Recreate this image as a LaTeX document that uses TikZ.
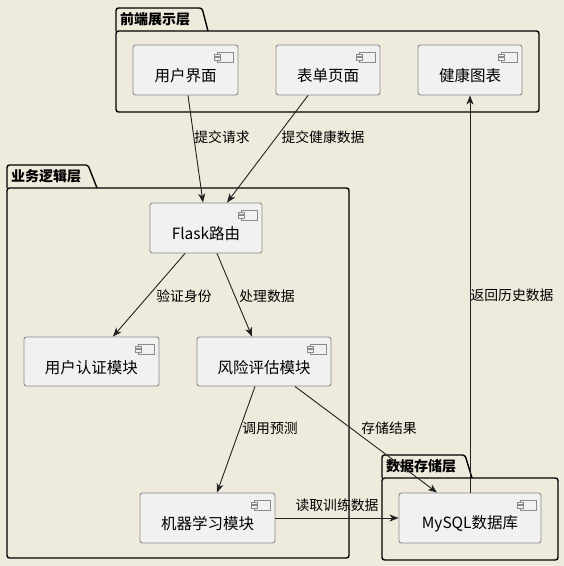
\documentclass[tikz,border=0pt]{standalone}
\usepackage{fontspec}
\setmainfont{Noto Sans CJK SC}
\usetikzlibrary{arrows.meta}
\definecolor{bgc}{HTML}{EEEADC}
\definecolor{compfill}{HTML}{F1F1F1}
\definecolor{compdraw}{HTML}{8A8A8A}
\definecolor{linec}{HTML}{222222}
\tikzset{
  pkg/.style={draw=black,line width=1.4pt,rounded corners=2.5pt},
  pkgtitle/.style={font=\fontsize{14}{16}\selectfont\bfseries,anchor=west,inner sep=0pt},
  comp/.style={draw=compdraw,fill=compfill,line width=0.9pt,rounded corners=2.5pt,inner sep=0pt},
  comptext/.style={font=\fontsize{15.5}{18}\selectfont,inner sep=0pt},
  lbl/.style={font=\fontsize{13.8}{16}\selectfont,inner sep=1pt},
  arr/.style={draw=linec,line width=0.9pt,-{Stealth[length=9pt,width=7pt,inset=2.5pt]}}
}
\newcommand\mkcomp[6]{% name, x1, y1, x2, y2, text
  \node[comp,minimum width=#4-#2,minimum height=#5-#3] (#1) at ({(#2+#4)/2},{(#3+#5)/2}) {};
  \node[comptext] (#1t) at ({(#2+#4)/2},{(#3+#5)/2+6}) {#6};
  \draw[compdraw,fill=compfill,line width=0.7pt] (#4-21,#3+7) rectangle (#4-5,#3+17);
  \draw[compdraw,fill=compfill,line width=0.6pt] (#4-24,#3+9) rectangle (#4-18,#3+11.5);
  \draw[compdraw,fill=compfill,line width=0.6pt] (#4-24,#3+12.5) rectangle (#4-18,#3+15);
}
\begin{document}
\begin{tikzpicture}[x=1pt,y=-1pt]
\fill[bgc] (0,0) rectangle (564,566);
\useasboundingbox (0,0) rectangle (564,566);

% packages
\draw[pkg] (116,31) -- (116,8) -- (202,8) -- (208,31);
\draw[pkg] (116,31) rectangle (539,112);
\node[pkgtitle] (p1) at (120,19) {前端展示层};

\draw[pkg] (7,188) -- (7,165) -- (88,165) -- (97,188);
\draw[pkg] (7,188) rectangle (349,558);
\node[pkgtitle] (p2) at (11,176.5) {业务逻辑层};

\draw[pkg] (382,478) -- (382,455) -- (465,455) -- (472,478);
\draw[pkg] (382,478) rectangle (558,560);
\node[pkgtitle] (p3) at (386,466.5) {数据存储层};

% components
\mkcomp{ui}{133}{45}{238}{95}{用户界面}
\mkcomp{form}{276}{45}{380}{95}{表单页面}
\mkcomp{chart}{418}{45}{522}{95}{健康图表}
\mkcomp{flask}{150}{203}{262}{253}{Flask路由}
\mkcomp{auth}{24}{337}{159}{386}{用户认证模块}
\mkcomp{risk}{197}{337}{331}{386}{风险评估模块}
\mkcomp{ml}{140}{493}{275}{543}{机器学习模块}
\mkcomp{db}{399}{493}{541}{543}{MySQL数据库}

% connectors
\draw[arr] ([xshift=2.5pt]ui.south) -- ([xshift=-3pt]flask.north);
\draw[arr] ([xshift=-20pt]form.south) -- ([xshift=21pt]flask.north);
\draw[arr] ([xshift=-21pt]flask.south) -- ([xshift=21.5pt]auth.north);
\draw[arr] ([xshift=11pt]flask.south) -- ([xshift=-12pt]risk.north);
\draw[arr] ([xshift=-9pt]risk.south) -- ([xshift=9.5pt]ml.north);
\draw[arr] ([xshift=31pt]risk.south) -- ([xshift=-33pt]db.north);
\draw[arr] (ml.east) -- (db.west);
\draw[arr] (db.north) -- (chart.south);

% labels
\node[lbl] (l1) at (222,137) {提交请求};
\node[lbl] (l2) at (323,137) {提交健康数据};
\node[lbl] (l3) at (184,296) {验证身份};
\node[lbl] (l4) at (267,296) {处理数据};
\node[lbl] (l5) at (270,428) {调用预测};
\node[lbl] (l6) at (389,428) {存储结果};
\node[lbl] (l7) at (337,505) {读取训练数据};
\node[lbl] (l8) at (512,295) {返回历史数据};
\end{tikzpicture}
\end{document}
